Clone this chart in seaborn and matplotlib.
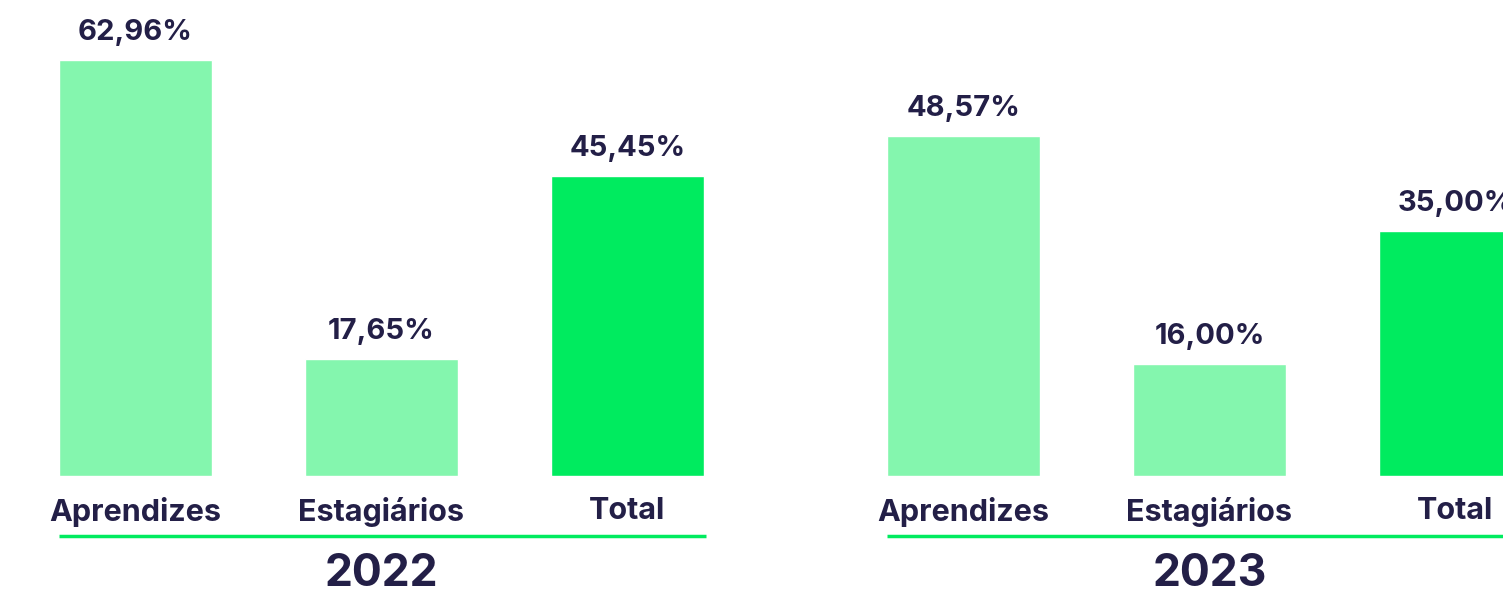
import pandas as pd
import matplotlib.pyplot as plt
import matplotlib.transforms as mtransforms
import seaborn as sns

# Data
categories = ['Aprendizes', 'Estagiários', 'Total']
years = ['2022', '2023']
values_2022 = [62.96, 17.65, 45.45]
values_2023 = [48.57, 16.00, 35.00]

light_green = '#84F6AE'
strong_green = '#00EB5F'
navy = '#231F47'
palette = {'Aprendizes': light_green, 'Estagiários': light_green, 'Total': strong_green}

sns.set_theme(style='white')
plt.rcParams['font.family'] = ['Inter', 'DejaVu Sans']

fig = plt.figure(figsize=(15.03, 5.91), dpi=100)
W, H = 1503, 591

# each panel: categories 0..2 spaced ~246px, baseline at y=476px
panels = [
    (years[0], values_2022, 12.5, 72.0),
    (years[1], values_2023, 840.5, 68.0),
]

for year, vals, left_px, ymax in panels:
    ax = fig.add_axes([left_px / W, (H - 476) / H, 738 / W, 476 / H])
    df = pd.DataFrame({'categoria': categories, 'valor': vals})
    sns.barplot(data=df, x='categoria', y='valor', hue='categoria', palette=palette,
                width=0.622, legend=False, ax=ax, saturation=1)
    ax.set_xlim(-0.5, 2.5)
    ax.set_ylim(0, ymax)
    sns.despine(ax=ax, left=True, bottom=True)
    ax.set_yticks([])
    ax.set_xlabel('')
    ax.set_ylabel('')
    ax.tick_params(axis='x', length=0, pad=15, labelsize=22, labelcolor=navy)
    for lab in ax.get_xticklabels():
        lab.set_fontweight('bold')

    for cont in ax.containers:
        labels = [f"{b.get_height():.2f}%".replace('.', ',') for b in cont]
        ax.bar_label(cont, labels=labels, padding=10, fontsize=21, fontweight='bold',
                     color=navy)

    # green underline and year label under the categories
    trans = mtransforms.blended_transform_factory(ax.transData, ax.transAxes)
    ax.plot([-0.311, 2.32], [-60 / 476, -60 / 476], transform=trans, color=strong_green,
            lw=2.5, clip_on=False, solid_capstyle='butt')
    ax.text(1, -98 / 476, year, transform=trans, ha='center', va='center',
            fontsize=32, fontweight='bold', color=navy)

fig.savefig('out.png', dpi=100)
